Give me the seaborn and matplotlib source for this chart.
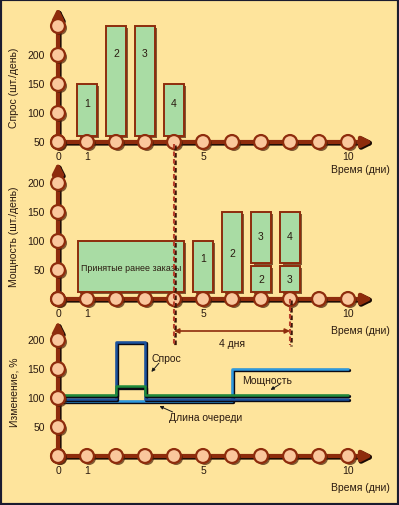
import matplotlib
matplotlib.use("Agg")
import matplotlib.pyplot as plt
import matplotlib.patheffects as pe
from matplotlib import font_manager
from matplotlib.patches import Rectangle
import seaborn as sns
import pandas as pd

# ---- data ----
days = list(range(11))
day_labels = {0: "0", 1: "1", 5: "5", 10: "10"}

demand_days = [1, 2, 3, 4]
demand_top = [150, 250, 250, 150]
demand_bottom = [60, 60, 60, 60]
demand_labels = ["1", "2", "3", "4"]
demand_label_y = [117, 203, 203, 117]
demand_ticks = [50, 100, 150, 200, 250]
demand_ticklabels = ["50", "100", "150", "200", ""]

backlog_span = [0.69, 4.33]
backlog_range = [12, 100]
backlog_text = "Принятые ранее заказы"

cap_days = [5, 6, 7, 7, 8, 8]
cap_bottom = [12, 12, 12, 62, 12, 62]
cap_top = [100, 150, 57, 150, 57, 150]
cap_labels = ["1", "2", "2", "3", "3", "4"]
cap_label_y = [70, 79, 34, 109, 34, 109]
cap_ticks = [0, 50, 100, 150, 200]
cap_ticklabels = ["", "50", "100", "150", "200"]

pct_ticks = [0, 50, 100, 150, 200]
pct_ticklabels = ["", "50", "100", "150", "200"]
queue_x = [0, 2, 2, 3, 3, 10]
queue_y = [106, 106, 120, 120, 106, 106]
demand_x = [0, 2, 2, 3, 3, 10]
demand_y = [99, 99, 197, 197, 99, 99]
power_x = [0, 6, 6, 10]
power_y = [95, 95, 150, 150]

# ---- style ----
sns.set_theme(style="white")
names = {f.name for f in font_manager.fontManager.ttflist}
narrow = "Liberation Sans Narrow" if "Liberation Sans Narrow" in names else "Liberation Sans"
plt.rcParams["font.family"] = [narrow, "DejaVu Sans"]
FS = 7.5

BG = "#FEE49C"
AXC = "#8E2C0C"
CIRC = "#FAC79C"
BARF = "#A9DCA4"
TXT = "#2a1a10"
shadow = [pe.SimplePatchShadow(offset=(1.5, -1.5), shadow_rgbFace="#4a2008", alpha=0.7), pe.Normal()]
ashadow = [pe.Stroke(linewidth=3.6, foreground="#1a0a04", offset=(0.8, -0.8)), pe.Normal()]
lshadow = [pe.Stroke(linewidth=2.4, foreground="#0a0a14", offset=(0.7, -0.9)), pe.Normal()]

W, H = 399, 506
X0, PXD, PXV = 58, 29.0, 0.58

fig = plt.figure(figsize=(W / 100, H / 100), dpi=100, facecolor=BG)
fig.patches.append(Rectangle((0, 0), 1, 1, transform=fig.transFigure, fill=False,
                             edgecolor="#1b1b2f", lw=3))


def panel(zero_py, zero_val):
    ax = fig.add_axes([0, 0, 1, 1])
    ax.set_xlim(-X0 / PXD, (W - X0) / PXD)
    ax.set_ylim(zero_val - (H - zero_py) / PXV, zero_val + zero_py / PXV)
    ax.axis("off")
    ax.patch.set_alpha(0)
    return ax


def px(v):
    return v / PXV


def draw_axes(ax, y0, yticks, yticklabels, ytop, ylabel, ylabel_y):
    arrow = dict(arrowstyle="-|>", color=AXC, lw=3, mutation_scale=15,
                 shrinkA=0, shrinkB=0, path_effects=ashadow)
    ax.annotate("", xy=(0, ytop), xytext=(0, y0), arrowprops=arrow, zorder=2)
    ax.annotate("", xy=(10.86, y0), xytext=(0, y0), arrowprops=arrow, zorder=2)
    pts = pd.DataFrame({"x": days + [0] * len(yticks), "y": [y0] * len(days) + yticks})
    sc = sns.scatterplot(data=pts, x="x", y="y", ax=ax, s=100, color=CIRC,
                         edgecolor=AXC, linewidth=1.6, zorder=4, legend=False)
    sc.collections[-1].set_path_effects(shadow)
    for d, lab in day_labels.items():
        ax.text(d, y0 - px(14), lab, ha="center", va="center", fontsize=FS, color=TXT)
    for v, lab in zip(yticks, yticklabels):
        ax.text(-0.45, v, lab, ha="right", va="center", fontsize=FS, color=TXT)
    ax.text(11.45, y0 - px(27 if y0 else 31), "Время (дни)", ha="right", va="center",
            fontsize=FS, color=TXT)
    ax.text(-1.5, ylabel_y, ylabel, rotation=90, ha="center", va="center",
            fontsize=FS, color=TXT)


def draw_bars(ax, xs, bottoms, tops, width):
    bars = ax.bar(xs, [t - b for t, b in zip(tops, bottoms)], bottom=bottoms, width=width,
                  color=BARF, edgecolor=AXC, linewidth=1.4, zorder=3)
    for p in bars:
        p.set_path_effects(shadow)


# ---- top panel: demand ----
ax1 = panel(143, 50)
draw_axes(ax1, 50, demand_ticks, demand_ticklabels, 282, "Спрос (шт./день)", 145)
draw_bars(ax1, demand_days, demand_bottom, demand_top, 0.66)
for d, lab, ly in zip(demand_days, demand_labels, demand_label_y):
    ax1.text(d, ly, lab, ha="center", va="center", fontsize=FS, color=TXT, zorder=5)

# ---- middle panel: capacity ----
ax2 = panel(300, 0)
draw_axes(ax2, 0, cap_ticks, cap_ticklabels, 236, "Мощность (шт./день)", 109)
draw_bars(ax2, [sum(backlog_span) / 2], [backlog_range[0]], [backlog_range[1]],
          backlog_span[1] - backlog_span[0])
ax2.text(sum(backlog_span) / 2, 55, backlog_text, ha="center", va="center",
         fontsize=6.4, color=TXT, zorder=5)
draw_bars(ax2, cap_days, cap_bottom, cap_top, 0.66)
for d, lab, ly in zip(cap_days, cap_labels, cap_label_y):
    ax2.text(d, ly, lab, ha="center", va="center", fontsize=FS, color=TXT, zorder=5)

# lead-time marker (4 days)
dash = dict(color="#B8402A", lw=1.5, linestyle=(0, (2.2, 1.4)), zorder=6,
            path_effects=[pe.Stroke(linewidth=1.8, foreground="#3a1408", offset=(0.7, -0.5)), pe.Normal()])
ax2.plot([4, 4], [px(300 - 145), px(300 - 346)], **dash)
ax2.plot([8, 8], [0, px(300 - 346)], **dash)
ax2.annotate("", xy=(8, px(300 - 332)), xytext=(4, px(300 - 332)),
             arrowprops=dict(arrowstyle="<|-|>", color=AXC, lw=1.2, mutation_scale=7,
                             shrinkA=0, shrinkB=0), zorder=6)
ax2.text(6, px(300 - 344), "4 дня", ha="center", va="center", fontsize=FS, color=TXT)

# ---- bottom panel: % change ----
ax3 = panel(457, 0)
draw_axes(ax3, 0, pct_ticks, pct_ticklabels, 233, "Изменение, %", 112)
for xs, ys, col in [(power_x, power_y, "#2e9ae0"), (demand_x, demand_y, "#1b52a0"),
                    (queue_x, queue_y, "#1e8a3c")]:
    sns.lineplot(x=xs, y=ys, ax=ax3, sort=False, estimator=None, color=col, lw=1.8,
                 zorder=3, path_effects=lshadow)

tiny = dict(arrowstyle="-|>", color="#1a1a1a", lw=0.7, mutation_scale=5, shrinkA=0, shrinkB=0)
ax3.text(3.72, 169, "Спрос", ha="center", va="center", fontsize=FS, color=TXT)
ax3.annotate("", xy=(3.22, 145), xytext=(3.48, 160), arrowprops=tiny)
ax3.text(7.2, 131, "Мощность", ha="center", va="center", fontsize=FS, color=TXT)
ax3.annotate("", xy=(7.33, 114), xytext=(7.66, 124), arrowprops=tiny)
ax3.text(5.1, 67, "Длина очереди", ha="center", va="center", fontsize=FS, color=TXT)
ax3.annotate("", xy=(3.5, 86), xytext=(3.95, 76), arrowprops=tiny)

fig.savefig("out.png", dpi=100, facecolor=BG)
